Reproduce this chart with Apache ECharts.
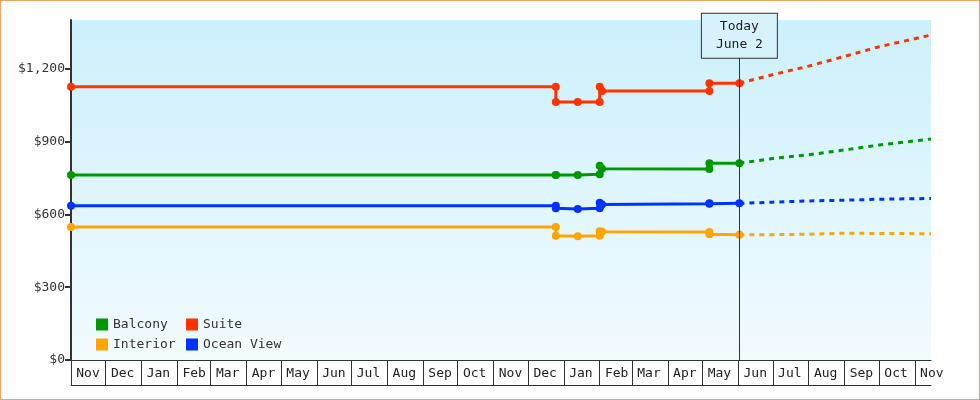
<!DOCTYPE html>
<html><head><meta charset="utf-8">
<script src="https://cdn.jsdelivr.net/npm/echarts@6/dist/echarts.min.js"></script>
<style>html,body{margin:0;padding:0;background:#fff}#c{width:978px;height:398px;border:1px solid #e8a860}</style>
</head><body><div id="c"></div>
<script>
const MONTHS=['Jan','Feb','Mar','Apr','May','Jun','Jul','Aug','Sep','Oct','Nov','Dec'];
const TODAY='2025-06-02';
const dates=['2023-11-01','2024-12-25','2024-12-25','2025-01-13','2025-02-01','2025-02-01','2025-02-03','2025-05-07','2025-05-07','2025-06-02'];
const suite   =[1125,1125,1062,1062,1062,1125,1108,1108,1140,1140];
const balcony =[762,762,762,762,765,800,788,786,810,810];
const ocean   =[635,635,625,622,625,648,640,643,645,645];
const interior=[548,548,512,510,512,530,528,527,518,516];
const fDates=['2025-06-02','2025-07-01','2025-08-01','2025-09-01','2025-10-01','2025-11-15'];
const suiteF   =[1140,1175,1210,1250,1290,1338];
const balconyF =[810,830,845,865,885,910];
const oceanF   =[645,650,655,658,662,665];
const interiorF=[516,516,518,522,521,520];
const C={Balcony:'#009900',Suite:'#ff3300',Interior:'#ffa500','Ocean View':'#0033ff'};
const font='DejaVu Sans Mono';
const zip=(d,v)=>d.map((x,i)=>[x,v[i]]);
function hist(name,v){return {name,type:'line',data:zip(dates,v),color:C[name],symbol:'circle',symbolSize:8,
  lineStyle:{width:3},itemStyle:{color:C[name]},z:3};}
function fc(name,v){return {name,type:'line',data:zip(fDates,v),color:C[name],symbol:'none',
  lineStyle:{width:3,type:[5,5]},z:2};}
const series=[hist('Balcony',balcony),hist('Suite',suite),hist('Interior',interior),hist('Ocean View',ocean),
  fc('Balcony',balconyF),fc('Suite',suiteF),fc('Interior',interiorF),fc('Ocean View',oceanF)];
series[0].markLine={symbol:'none',silent:true,lineStyle:{color:'#333',width:1,type:'solid'},
  label:{show:true,position:'end',formatter:'Today\nJune 2',fontFamily:font,fontSize:13,color:'#222',
    backgroundColor:'#d8f2fb',borderColor:'#333',borderWidth:1,padding:[4,14],lineHeight:18,distance:0},
  data:[[{coord:[TODAY,0]},{coord:[TODAY,1245]}]]};
function lg(name,left,top){return {data:[name],left,top,itemWidth:12,itemHeight:12,icon:'rect',
  textStyle:{fontFamily:font,fontSize:13,color:'#333'},itemGap:4};}
const chart=echarts.init(document.getElementById('c'));
chart.setOption({
  animation:false,
  grid:{left:70,right:48,top:19,bottom:39,show:true,borderWidth:0,
    backgroundColor:{type:'linear',x:0,y:0,x2:0,y2:1,colorStops:[{offset:0,color:'#ccf0fc'},{offset:1,color:'#f2fbff'}]}},
  legend:[lg('Balcony',90,312),lg('Suite',180,312),lg('Interior',90,332),lg('Ocean View',180,332)],
  xAxis:[{type:'time',min:'2023-11-01',max:'2025-11-15',splitNumber:26,
    axisLine:{lineStyle:{color:'#333',width:1}},
    axisTick:{show:true,length:25,inside:false,lineStyle:{color:'#333'}},
    minorTick:{show:false},splitLine:{show:false},
    axisLabel:{showMinLabel:true,hideOverlap:false,fontFamily:font,fontSize:13,color:'#222',padding:[0,0,0,34],align:'center',margin:7,
      formatter:v=>MONTHS[new Date(v).getMonth()]}},
    {type:'time',min:'2023-11-01',max:'2025-11-15',position:'bottom',offset:25,axisLine:{show:true,lineStyle:{color:'#333'}},
     axisTick:{show:false},axisLabel:{show:false},splitLine:{show:false}}],
  yAxis:{type:'value',min:0,max:1400,interval:300,
    axisLine:{show:true,lineStyle:{color:'#333',width:2}},
    axisTick:{show:true,length:6,lineStyle:{color:'#333',width:2}},splitLine:{show:false},
    axisLabel:{showMaxLabel:false,fontFamily:font,fontSize:13,color:'#333',margin:6,
      formatter:v=>v>1300?'':'$'+v.toLocaleString('en-US')}},
  series
});
</script></body></html>
